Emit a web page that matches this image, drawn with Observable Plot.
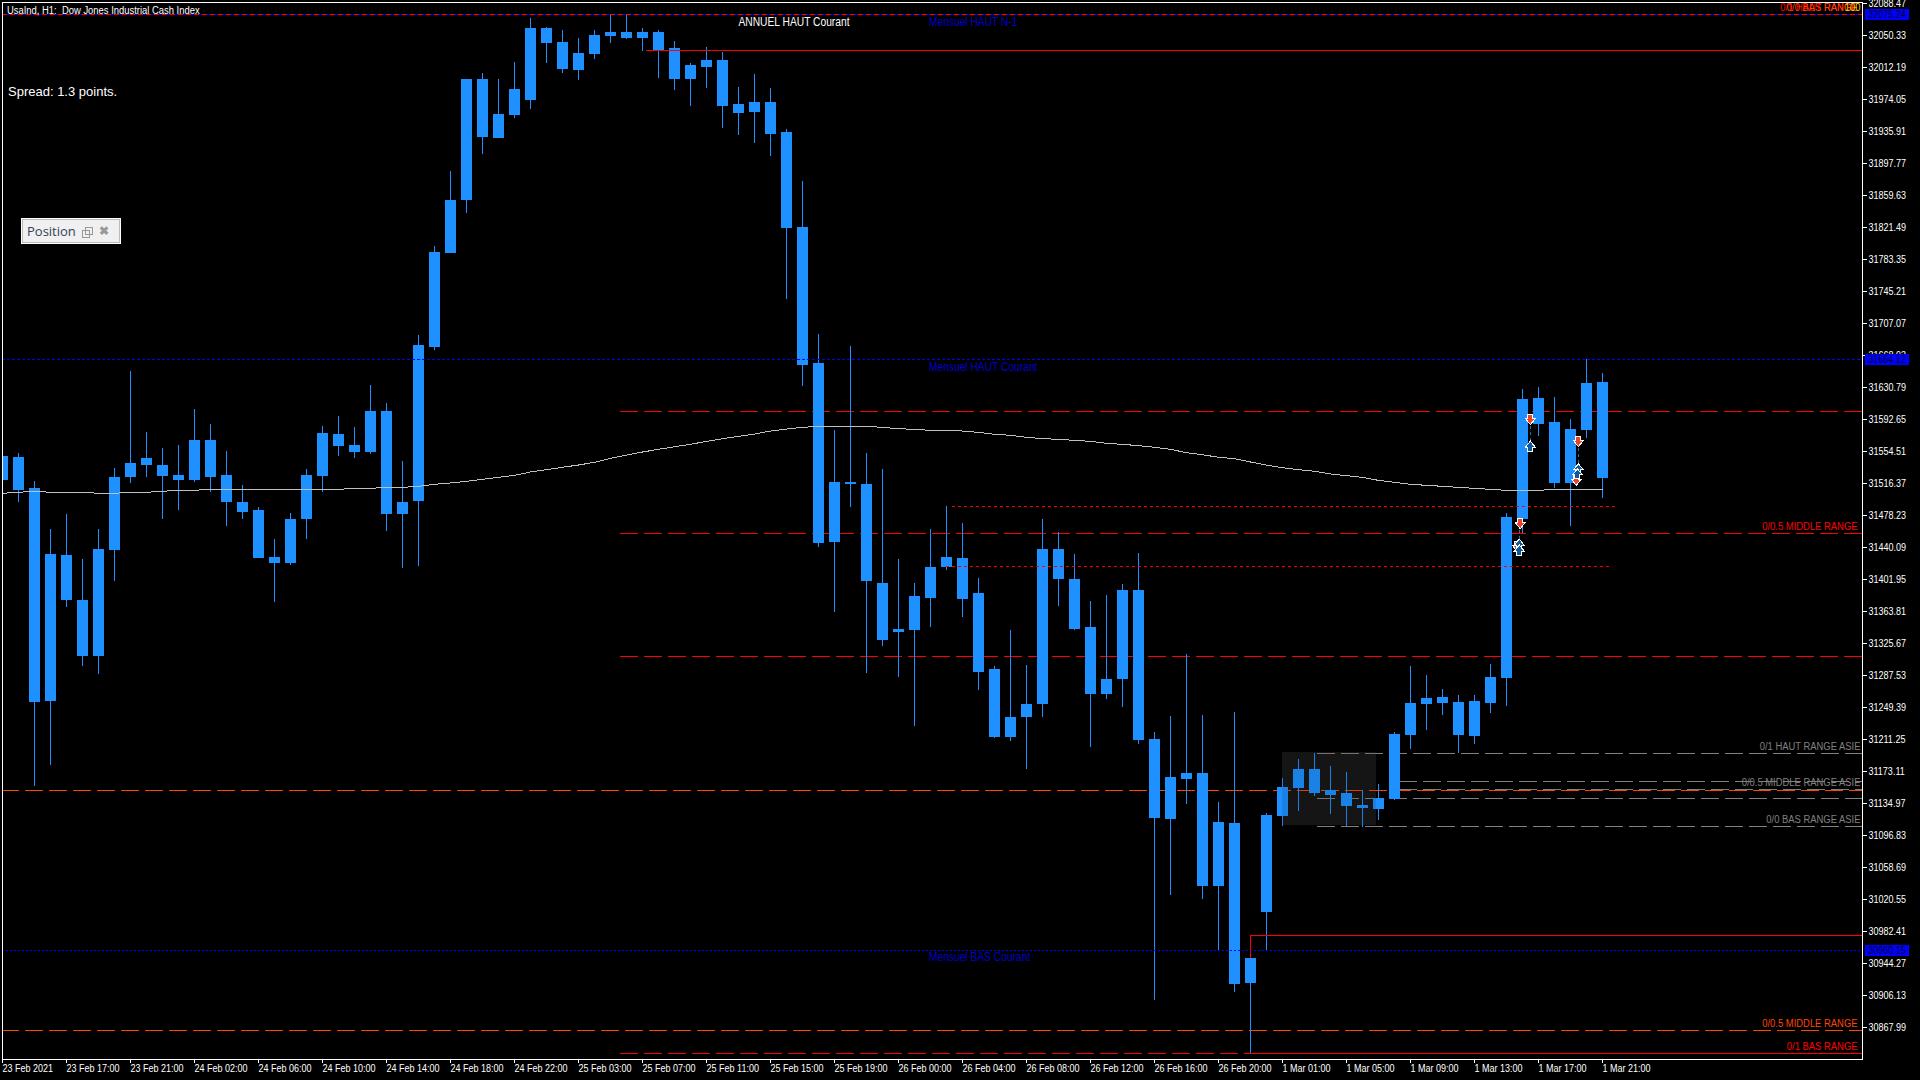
<!DOCTYPE html>
<html><head><meta charset="utf-8">
<script src="https://cdn.jsdelivr.net/npm/d3@7"></script>
<script src="https://cdn.jsdelivr.net/npm/@observablehq/plot@0.6"></script>
<style>
html,body{margin:0;padding:0;background:#000;overflow:hidden}
#wrap{position:relative;width:1920px;height:1080px}
svg text{font-family:"Liberation Sans",Arial,sans-serif;white-space:pre}
#pos{position:absolute;left:21px;top:218px;width:98px;height:24px;background:#f0f0f0;border:1px solid #fff;outline:1px solid #bbb;outline-offset:-2px;font:13px "Open Sans",sans-serif;color:#34405c;line-height:24px;overflow:hidden}
#pos span{position:absolute;left:5px;width:50px;overflow:hidden;white-space:nowrap}
#pos b{position:absolute;display:block;border:1px solid #999;width:6px;height:6px}
#pos i{position:absolute;left:77px;top:0;font-style:normal;font-size:12px;color:#999;font-weight:bold}
</style></head><body><div id="wrap"><div id="pos"><span>Position :</span><b style="left:60px;top:11px"></b><b style="left:63px;top:8px"></b><i>&#x2716;</i></div></div>
<script>
const high=[31548.0,31552.7,31519.3,31461.0,31480.0,31425.2,31461.0,31533.7,31649.3,31576.6,
31557.5,31561.1,31604.0,31586.1,31555.1,31513.4,31487.2,31450.2,31481.2,31532.5,
31584.9,31595.7,31582.6,31632.6,31611.2,31542.0,31693.3,31799.4,31888.8,31997.3,
32005.6,31998.4,32018.7,32071.1,32060.4,32055.7,32047.3,32056.8,32075.2,32075.2,
32059.2,32056.8,32043.7,32017.5,32036.6,32030.6,31988.9,32004.4,31987.7,31937.7,
31876.9,31694.5,31580.1,31680.2,31552.7,31532.5,31425.2,31396.6,31462.1,31489.5,
31468.1,31403.7,31298.8,31340.6,31300.0,31472.9,31457.4,31432.3,31376.3,31382.3,
31395.4,31433.5,31220.1,31239.2,31313.1,31240.4,31136.7,31244.0,30950.8,31123.6,
31165.3,31188.0,31195.1,31179.6,31172.5,31151.0,31158.2,31220.1,31298.8,31288.1,
31271.4,31263.1,31263.1,31301.2,31481.2,31629.0,31630.2,31618.3,31593.2,31663.6,31646.9];
const bodyTop=[31548.0,31546.8,31511.0,31431.2,31430.0,31377.5,31438.3,31524.1,31540.8,31545.6,
31537.3,31526.5,31567.1,31568.2,31526.5,31494.3,31483.6,31427.6,31472.9,31526.5,
31575.4,31574.2,31561.1,31601.6,31601.6,31493.2,31681.4,31792.2,31854.2,31997.3,
31997.3,31956.7,31986.5,32059.2,32059.2,32042.5,32029.4,32050.9,32054.5,32054.5,
32054.5,32054.5,32035.4,32015.1,32021.1,32021.1,31968.6,31971.0,31971.0,31935.3,
31822.0,31658.8,31517.0,31517.0,31514.6,31396.6,31342.9,31381.1,31416.8,31427.6,
31426.4,31384.7,31294.1,31236.9,31253.5,31438.3,31438.3,31402.5,31345.3,31282.2,
31389.4,31389.4,31211.8,31166.5,31171.3,31171.3,31112.9,31111.7,30950.8,31121.2,
31154.6,31174.9,31176.0,31151.0,31147.4,31133.1,31141.5,31217.8,31254.7,31260.7,
31261.9,31255.9,31257.1,31285.7,31476.4,31615.9,31617.1,31588.5,31581.3,31636.1,31637.3];
const bodyBottom=[31520.5,31508.6,31254.8,31256.0,31377.5,31309.6,31309.6,31437.1,31523.0,31537.3,
31525.3,31519.4,31520.5,31524.1,31493.2,31482.4,31426.4,31420.5,31421.6,31472.9,
31525.3,31559.9,31553.9,31553.9,31480.0,31478.9,31495.5,31679.0,31791.0,31854.2,
31929.3,31928.1,31955.5,31973.4,32041.3,32010.4,32009.2,32028.2,32049.7,32047.3,
32047.3,32033.0,31997.3,31998.4,32012.7,31966.3,31957.9,31959.1,31932.9,31820.8,
31657.6,31445.4,31446.6,31514.6,31399.0,31329.8,31338.2,31340.6,31379.9,31416.8,
31378.7,31291.7,31214.2,31214.2,31236.9,31253.5,31402.5,31342.9,31264.3,31264.3,
31282.2,31210.6,31117.6,31116.4,31164.1,31036.6,31036.6,30919.8,30921.0,31005.6,
31120.0,31153.4,31147.4,31145.1,31130.8,31129.6,31128.4,31140.3,31216.6,31253.5,
31254.7,31216.6,31215.4,31254.7,31284.5,31474.0,31586.1,31515.8,31515.8,31580.1,31522.9];
const low=[31520.5,31494.3,31155.8,31180.8,31368.0,31297.7,31289.3,31399.0,31515.8,31524.1,
31472.9,31483.6,31517.0,31505.1,31464.6,31472.9,31426.4,31374.0,31419.2,31450.2,
31505.1,31548.0,31545.6,31550.4,31458.6,31414.5,31416.9,31675.4,31791.0,31838.7,
31909.0,31928.1,31952.0,31962.7,32017.5,32005.6,31997.2,32022.3,32040.2,32046.1,
32031.8,31999.6,31985.3,31966.3,31987.7,31940.0,31931.7,31922.2,31906.7,31736.2,
31631.4,31439.5,31363.2,31487.2,31290.5,31321.5,31285.7,31227.3,31345.3,31412.1,
31357.2,31270.2,31213.0,31208.3,31174.9,31236.9,31369.2,31341.7,31202.3,31259.5,
31248.8,31205.8,30900.7,31025.9,31134.3,31021.1,30959.1,30910.2,30837.1,30960.3,
31108.1,31126.0,31143.9,31122.4,31107.3,31106.9,31115.3,31139.1,31199.9,31222.5,
31240.4,31195.1,31204.7,31242.8,31251.1,31457.0,31571.8,31511.0,31465.7,31570.6,31497.9];
const ema=[31504.7,31505.9,31507.1,31505.9,31505.9,31505.9,31504.7,31504.7,31505.9,31505.9,
31507.1,31508.3,31508.3,31509.4,31509.4,31509.4,31509.4,31509.4,31509.4,31509.4,
31509.4,31509.4,31510.6,31510.6,31511.8,31511.8,31513.0,31515.4,31517.0,31519.0,
31521.4,31523.7,31526.1,31530.1,31532.9,31535.7,31538.4,31541.6,31546.4,31550.3,
31553.9,31557.1,31560.2,31563.1,31566.6,31569.7,31572.6,31575.3,31578.9,31581.3,
31583.3,31584.5,31584.5,31584.5,31584.5,31583.3,31581.7,31580.9,31579.7,31579.7,
31578.9,31577.3,31575.0,31573.8,31571.4,31569.8,31569.0,31567.8,31566.6,31564.2,
31563.0,31561.5,31559.5,31557.1,31553.1,31550.7,31547.6,31546.0,31542.0,31538.4,
31535.2,31532.9,31530.9,31527.7,31525.7,31523.7,31520.1,31517.8,31515.4,31514.2,
31513.0,31511.8,31510.6,31509.4,31508.2,31508.2,31508.2,31509.4,31509.4,31509.4,31509.4];

const yTicks=[32088.47,32050.33,32012.19,31974.05,31935.91,31897.77,31859.63,31821.49,31783.35,31745.21,31707.07,31668.93,31630.79,31592.65,31554.51,31516.37,31478.23,31440.09,31401.95,31363.81,31325.67,31287.53,31249.39,31211.25,31173.11,31134.97,31096.83,31058.69,31020.55,30982.41,30944.27,30906.13,30867.99];
const xLabels=["23 Feb 2021","23 Feb 17:00","23 Feb 21:00","24 Feb 02:00","24 Feb 06:00","24 Feb 10:00","24 Feb 14:00","24 Feb 18:00","24 Feb 22:00","25 Feb 03:00","25 Feb 07:00","25 Feb 11:00","25 Feb 15:00","25 Feb 19:00","26 Feb 00:00","26 Feb 04:00","26 Feb 08:00","26 Feb 12:00","26 Feb 16:00","26 Feb 20:00","1 Mar 01:00","1 Mar 05:00","1 Mar 09:00","1 Mar 13:00","1 Mar 17:00","1 Mar 21:00"];
const priceTags=[32075.24,31664.12,30960.15];

const redDashLevels=[31602.5,31456.9,31310.3,30836.9];
const orangeLevels=[31150.7,30864.5];
const greyLevels=[[31194.9,82.2],[31160.9,87.3],[31151.9,87.3],[31141.1,82.2],[31107.9,82.2]];
const redSolid=[[32032.7,40.25],[30977.9,78],[30836.9,78]];
const redDotted=[[31489.2,59.4,100.9],[31417.7,59,100.5]];
const sellArrows=[[95.49,31592.4],[94.86,31468.4],[98.49,31566.2],[98.36,31520.2],[94.68,31441.0]];
const buyArrows=[[95.49,31561.0],[94.8,31444.2],[94.8,31437.1],[98.49,31534.0],[98.43,31528.0]];
const tradeLinks=[[95.49,31592.4,95.49,31561.0],[94.86,31468.4,94.8,31444.2],[98.49,31566.2,98.49,31534.0],[98.36,31520.2,98.43,31528.0]];
const labelsInset5=[["0/1 HAUT RANGE",32075.24,"#f00"],["0/0 BAS RANGE",32075.24,"#ff4500"],["0/0.5 MIDDLE RANGE",31456.9,"#f00"],["0/0.5 MIDDLE RANGE",30864.5,"#ff4500"],["0/1 BAS RANGE",30836.9,"#f00"]];
const labelsInset2=[["100",32075.24,"#ffd700"],["0/1 HAUT RANGE ASIE",31194.9,"#808080"],["0/0 BAS RANGE ASIE",31107.9,"#808080"]];
const labelMiddleAsie=[["0/0.5 MIDDLE RANGE ASIE",31160.9,"#808080"]];
const chartLabels=[["ANNUEL HAUT Courant",46,32075.24,"#fff"],["Mensuel HAUT N-1",57.9,32075.24,"#0000cd"],
 ["Mensuel HAUT Courant",57.9,31664.12,"#0000cd"],["Mensuel BAS Courant",57.9,30960.15,"#0000cd"]];

const bars=high.map((h,i)=>({i,h,t:bodyTop[i],b:bodyBottom[i],l:low[i],e:ema[i]}));
const xEnd=116.25;
const hline=(rows,opt)=>Plot.ruleY(rows,{y:d=>d[0],x1:d=>d[1],x2:d=>d[2]??xEnd,...opt});
const arrowDown={draw(c,size){const s=Math.sqrt(size/Math.PI);c.moveTo(-s*.5,-s);c.lineTo(s*.5,-s);c.lineTo(s*.5,-s*.25);c.lineTo(s,-s*.25);c.lineTo(0,s);c.lineTo(-s,-s*.25);c.lineTo(-s*.5,-s*.25);c.closePath();}};
const arrowUp={draw(c,size){const s=Math.sqrt(size/Math.PI);c.moveTo(-s*.5,s);c.lineTo(s*.5,s);c.lineTo(s*.5,s*.25);c.lineTo(s,s*.25);c.lineTo(0,-s);c.lineTo(-s,s*.25);c.lineTo(-s*.5,s*.25);c.closePath();}};
const zone=[{x1:80,x2:85.9,y1:31195.5,y2:31108.5}];
const zoneOpts={x1:"x1",x2:"x2",y1:"y1",y2:"y2"};
const rightText=(rows,dx,dy)=>Plot.text(rows,{x:xEnd,y:d=>d[1],text:d=>d[0],fill:d=>d[2],textAnchor:"end",fontSize:11.5,dx,dy});

const chart=Plot.plot({
 width:1920,height:1080,marginTop:2,marginLeft:2,marginRight:58,marginBottom:21,
 style:{background:"#000",color:"#fff",shapeRendering:"crispEdges",overflow:"visible"},
 x:{type:"linear",domain:[0,xEnd],range:[2,1862],axis:null},
 y:{type:"linear",domain:[32050.33+33*1.191875,32050.33-1024*1.191875],range:[2,1059],axis:null},
 marks:[
  Plot.rect(zone,{...zoneOpts,fill:"#181818"}),
  hline(greyLevels,{stroke:"#808080",strokeDasharray:"18,6"}),
  hline(orangeLevels.map(p=>[p,0]),{stroke:"#ff4500",strokeDasharray:"18,6",strokeDashoffset:1}),
  hline(redDashLevels.map(p=>[p,38.625]),{stroke:"#f00",strokeDasharray:"18,6"}),
  Plot.ruleX(bars,{x:"i",y1:"l",y2:"h",stroke:"#1e90ff"}),
  Plot.rect(bars,{x1:d=>d.i-5/16,x2:d=>d.i+6/16,y1:"t",y2:"b",fill:"#1e90ff",clip:true,dx:-0.5}),
  Plot.rect(zone,{...zoneOpts,fill:"#000",fillOpacity:.1}),
  hline(redSolid,{stroke:"#f00"}),
  Plot.ruleX([78],{y1:30950.8,y2:30977.9,stroke:"#f00"}),
  hline(redDotted,{stroke:"#f00",strokeDasharray:"3,3"}),
  hline([[32075.24,0]],{stroke:"#0000ff"}),
  hline([[32075.24,0]],{stroke:"#f00",strokeDasharray:"5,3"}),
  hline([[31664.12,0]],{stroke:"#0000ff",strokeDasharray:"3,2"}),
  hline([[30960.15,0]],{stroke:"#0000ff",strokeDasharray:"2,2"}),
  Plot.line(bars,{x:"i",y:"e",stroke:"#c0c0c0",strokeWidth:1}),
  Plot.link(tradeLinks,{x1:d=>d[0],y1:d=>d[1],x2:d=>d[2],y2:d=>d[3],stroke:"#1e6fc0",strokeDasharray:"3,3"}),
  Plot.dot(sellArrows,{x:d=>d[0],y:d=>d[1],r:5,symbol:arrowDown,fill:"#e8452a",stroke:"#fff",strokeWidth:1,shapeRendering:"auto"}),
  Plot.dot(buyArrows,{x:d=>d[0],y:d=>d[1],r:5,symbol:arrowUp,fill:"#0a5a9c",stroke:"#fff",strokeWidth:1,shapeRendering:"auto"}),
  Plot.frame({stroke:"#fff"}),
  Plot.axisY(yTicks,{anchor:"right",tickSize:4,tickPadding:2,tickFormat:d=>d.toFixed(2),fontSize:11,color:"#fff",label:null}),
  Plot.axisX(d3.range(0,101,4),{anchor:"bottom",tickSize:4,tickPadding:1,textAnchor:"start",tickFormat:d=>xLabels[d/4],fontSize:11,color:"#fff",label:null}),
  Plot.ruleY(priceTags,{x1:xEnd+.19,x2:xEnd+2.94,stroke:"#0000ff",strokeWidth:11}),
  Plot.text(priceTags,{x:xEnd+.36,y:d=>d,text:d=>d.toFixed(2),textAnchor:"start",fill:"#00002a",fontSize:11}),
  rightText(labelsInset5,-5,-7),
  rightText(labelsInset2,-2,-7),
  rightText(labelMiddleAsie,-2,1),
  Plot.text(chartLabels,{x:d=>d[1],y:d=>d[2],text:d=>d[0],fill:d=>d[3],textAnchor:"start",fontSize:12.5,dy:7}),
  Plot.text(["UsaInd, H1:  Dow Jones Industrial Cash Index"],{frameAnchor:"top-left",dx:4.5,dy:3,fill:"#fff",fontSize:11.5,textAnchor:"start"}),
  Plot.text(["Spread: 1.3 points."],{frameAnchor:"top-left",dx:5.5,dy:84,fill:"#fff",fontSize:13,textAnchor:"start"})
 ]
});
// the terminal's narrow bitmap face: condense each label about its own anchor point
chart.querySelectorAll("text").forEach(t=>{
 if(t.textContent.startsWith("Spread"))return;
 const tr=t.getAttribute("transform");
 if(tr)t.setAttribute("transform",tr+" scale(.82,1)");
});
document.getElementById("wrap").prepend(chart);
chart.style.position="absolute";chart.style.left=0;chart.style.top=0;
</script></body></html>
